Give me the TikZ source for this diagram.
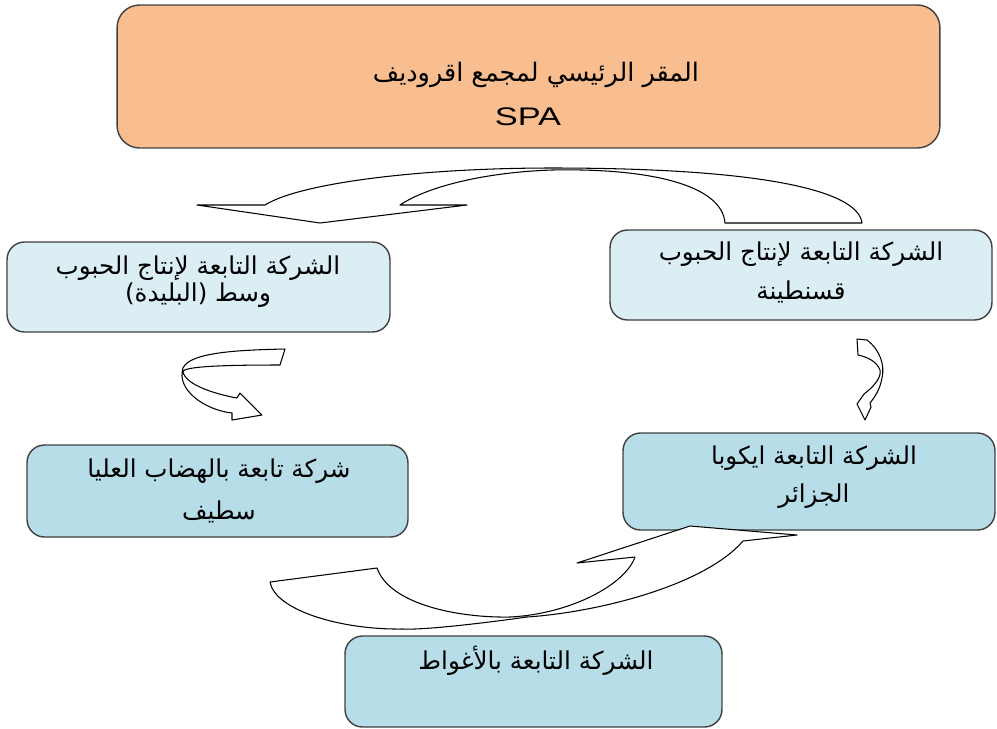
\documentclass[tikz,border=0pt]{standalone}
\usepackage{fontspec}
\setmainfont{Liberation Sans}
\newfontfamily\arabicfont[Script=Arabic]{DejaVu Sans}
\newfontfamily\spafont[FakeStretch=1.35]{Liberation Sans}
\TeXXeTstate=1
\newcommand{\artext}[1]{{\arabicfont\beginR #1\endR}}
\definecolor{hqorange}{RGB}{248,190,143}
\definecolor{paleblue}{RGB}{219,238,244}
\definecolor{midblue}{RGB}{183,221,232}
\definecolor{edgegray}{RGB}{64,64,64}
\tikzset{
  unitbox/.style={draw=edgegray, line width=0.8pt, rounded corners=0.35cm, inner sep=0pt},
  blockarrow/.style={draw=black, fill=white, line width=0.6pt, line join=round},
  boxtext/.style={font=\fontsize{14}{16}\selectfont, inner sep=0pt}
}
\begin{document}
\begin{tikzpicture}[x=0.02cm,y=-0.02cm]
    \useasboundingbox (0,0) rectangle (997,728);
    % head office box
    \node[unitbox, fill=hqorange, rounded corners=0.45cm, minimum width=16.46cm, minimum height=2.86cm] (hq) at (528.5,76.5) {};
    \node[boxtext, font=\fontsize{14.5}{16}\selectfont] (hqname) at (536,75) {\artext{المقر الرئيسي لمجمع اقروديف}};
    \node[boxtext, font=\fontsize{14.5}{16}\selectfont\spafont] (hqspa) at (528,117) {SPA};
    % grain subsidiary, centre (Blida)
    \node[unitbox, fill=paleblue, minimum width=7.66cm, minimum height=1.8cm] (blida) at (198.5,287) {};
    \node[boxtext] (blidaA) at (198,268) {\artext{الشركة التابعة لإنتاج الحبوب}};
    \node[boxtext] (blidaB) at (198,295) {\artext{وسط (البليدة)}};
    % grain subsidiary, Constantine
    \node[unitbox, fill=paleblue, minimum width=7.64cm, minimum height=1.8cm] (const) at (801,275) {};
    \node[boxtext] (constA) at (801,254) {\artext{الشركة التابعة لإنتاج الحبوب}};
    \node[boxtext] (constB) at (801,292) {\artext{قسنطينة}};
    % high plateaux subsidiary, Setif
    \node[unitbox, fill=midblue, minimum width=7.62cm, minimum height=1.84cm] (setif) at (217.5,491) {};
    \node[boxtext] (setifA) at (219,471) {\artext{شركة تابعة بالهضاب العليا}};
    \node[boxtext] (setifB) at (219,512) {\artext{سطيف}};
    % Eriad subsidiary, Algiers
    \node[unitbox, fill=midblue, minimum width=7.44cm, minimum height=1.94cm] (algiers) at (809,481.5) {};
    \node[boxtext] (algiersA) at (814,458) {\artext{الشركة التابعة ايكوبا}};
    \node[boxtext] (algiersB) at (814,496) {\artext{الجزائر}};
    % Laghouat subsidiary
    \node[unitbox, fill=midblue, minimum width=7.54cm, minimum height=1.82cm] (laghouat) at (533.5,681.5) {};
    \node[boxtext] (laghouatA) at (536,661) {\artext{الشركة التابعة بالأغواط}};
    % curved arrow from Constantine over to Blida
    \draw[blockarrow] (725,223) -- (862,223)
        .. controls (858,190) and (760,168) .. (552,168)
        .. controls (420,168) and (300,183) .. (265,205)
        -- (197,205) -- (320,223) -- (467,205) -- (400,205)
        .. controls (430,185) and (490,172) .. (552,170)
        .. controls (650,168) and (722,185) .. (725,223) -- cycle;
    % Blida to Setif
    \draw[blockarrow] (285,349) .. controls (240,350) and (190,352) .. (183,368)
        .. controls (176,390) and (205,410) .. (232,413)
        -- (232,420) -- (262,415) -- (240,393) -- (237,398)
        .. controls (215,394) and (186,385) .. (183,372)
        .. controls (182,366) and (230,365) .. (280,365) -- cycle;
    % Constantine to Algiers
    \draw[blockarrow] (857,339) -- (867,340)
        .. controls (880,350) and (885,365) .. (882,378)
        .. controls (880,390) and (874,398) .. (870,403)
        -- (871,407) -- (865,420) -- (857,404) -- (864,394)
        .. controls (872,388) and (882,378) .. (880,370)
        .. controls (877,362) and (868,357) .. (858,355) -- cycle;
    % Setif round under to Algiers
    \draw[blockarrow] (270,582) -- (377,568)
        .. controls (390,605) and (460,618) .. (510,617)
        .. controls (570,614) and (625,585) .. (635,557)
        -- (577,563) -- (690,526) -- (797,535) -- (743,541)
        .. controls (705,585) and (600,612) .. (527,617)
        .. controls (470,625) and (420,630) .. (403,629)
        .. controls (340,630) and (275,610) .. (270,582) -- cycle;
\end{tikzpicture}
\end{document}
